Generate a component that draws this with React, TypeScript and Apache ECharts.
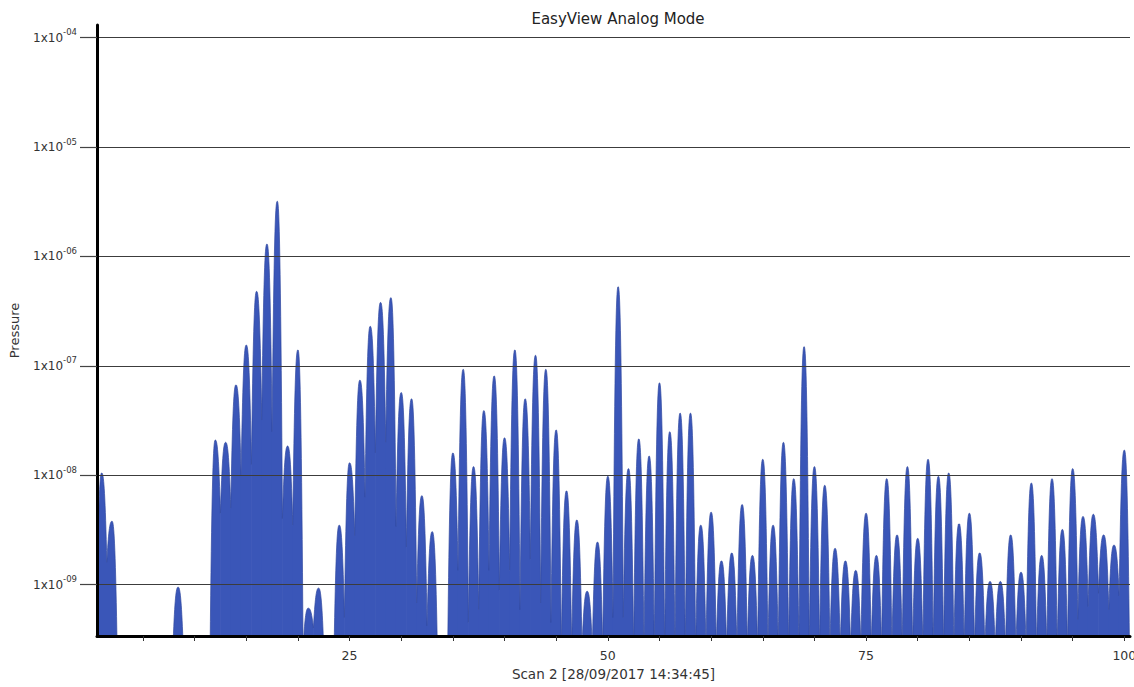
import React, { useEffect, useRef } from "react";
import * as echarts from "echarts";

// Peak positions (amu) and peak pressures
const masses = [
  1, 2, 8.4, 12, 13, 14, 15, 16, 17, 18, 19, 20, 21, 22, 24, 25, 26, 27, 28, 29,
  30, 31, 32, 33, 35, 36, 37, 38, 39, 40, 41, 42, 43, 44, 45, 46, 47, 48, 49, 50,
  51, 52, 53, 54, 55, 56, 57, 58, 59, 60, 61, 62, 63, 64, 65, 66, 67, 68, 69, 70,
  71, 72, 73, 74, 75, 76, 77, 78, 79, 80, 81, 82, 83, 84, 85, 86, 87, 88, 89, 90,
  91, 92, 93, 94, 95, 96, 97, 98, 99, 100,
];
const peakPressure = [
  1.05e-8, 3.8e-9, 9.5e-10, 2.1e-8, 2.0e-8, 6.7e-8, 1.55e-7, 4.8e-7, 1.3e-6, 3.2e-6,
  1.85e-8, 1.4e-7, 6.1e-10, 9.3e-10, 3.5e-9, 1.3e-8, 7.4e-8, 2.3e-7, 3.8e-7, 4.2e-7,
  5.7e-8, 5.0e-8, 6.5e-9, 3.05e-9, 1.6e-8, 9.3e-8, 1.2e-8, 3.9e-8, 8.1e-8, 2.2e-8,
  1.4e-7, 5.0e-8, 1.25e-7, 9.3e-8, 2.6e-8, 7.2e-9, 3.9e-9, 8.7e-10, 2.45e-9, 9.8e-9,
  5.3e-7, 1.15e-8, 2.15e-8, 1.5e-8, 7.0e-8, 2.5e-8, 3.7e-8, 3.7e-8, 3.5e-9, 4.6e-9,
  1.65e-9, 1.95e-9, 5.4e-9, 1.85e-9, 1.4e-8, 3.5e-9, 2.0e-8, 9.3e-9, 1.5e-7, 1.2e-8,
  8.1e-9, 2.15e-9, 1.65e-9, 1.35e-9, 4.5e-9, 1.85e-9, 9.3e-9, 2.85e-9, 1.2e-8, 2.65e-9,
  1.4e-8, 9.8e-9, 1.05e-8, 3.6e-9, 4.5e-9, 1.95e-9, 1.07e-9, 1.07e-9, 2.85e-9, 1.3e-9,
  8.5e-9, 1.85e-9, 9.3e-9, 3.2e-9, 1.15e-8, 4.2e-9, 4.4e-9, 2.85e-9, 2.3e-9, 1.7e-8,
];
// Pressure at the valley between a peak and the next one (null: valley drops below the axis)
const valleyAfter: (number | null)[] = [
  1.6e-9, null, null, 4.5e-9, 5.0e-9, 1.0e-8, 1.25e-8, 3.2e-8, 2.5e-8, 4.0e-9,
  3.5e-9, null, 4.0e-10, null, 5.0e-10, 2.8e-9, 6.3e-9, 1.6e-8, 2.0e-8, 3.4e-9,
  2.2e-9, 6.8e-10, 4.2e-10, null, 1.35e-9, 4.5e-10, 5.9e-10, 1.35e-9, 8.9e-10, 1.35e-9,
  5.9e-10, 1.7e-9, 6.8e-10, 4.5e-10, null, null, null, null, null, 5.0e-10,
  5.0e-10, null, null, null, null, null, null, null, null, null,
  null, null, null, null, null, null, null, null, null, null,
  null, null, null, null, null, null, null, null, null, null,
  null, null, null, null, null, null, null, null, null, null,
  null, null, null, null, 4.8e-10, 6.3e-10, 8.3e-10, 5.9e-10, 7.9e-10, null,
];
const yExponents = [-9, -8, -7, -6, -5, -4];
const xTicks = [5, 10, 15, 20, 25, 30, 35, 40, 45, 50, 55, 60, 65, 70, 75, 80, 85, 90, 95, 100];
const xLabels = [25, 50, 75, 100];

const FONT = "DejaVu Sans, Liberation Sans, Arial, sans-serif";
const Y_MIN = -9.469;
const Y_MAX = -3.884;
const FILL = "#3a56b8";
const EDGE = "#2f479f";
const SHAPE_POWER = 2.5;

export default function App() {
  const ref = useRef<HTMLDivElement>(null);
  useEffect(() => {
    if (!ref.current) return;
    const chart = echarts.init(ref.current, undefined, { renderer: "svg" });
    const data = masses.map((m, i) => [m, Math.log10(peakPressure[i])]);
    const leftV = masses.map((_, i) => (i > 0 ? valleyAfter[i - 1] : null));
    const rightV = masses.map((_, i) => valleyAfter[i]);

    const renderItem = (params: any, api: any) => {
      const i = params.dataIndex;
      const m = api.value(0) as number;
      const top = api.value(1) as number;
      const floor = Y_MIN - 0.12;
      const N = 18;
      const side = (dir: number, vp: number | null) => {
        const curve: number[][] = [];
        const foot: number[][] = [];
        const v = vp != null ? Math.log10(vp) : floor;
        for (let j = 0; j <= N; j++) {
          const t = j / N;
          curve.push([m + dir * 0.5 * t, top - (top - v) * Math.pow(t, SHAPE_POWER)]);
        }
        if (vp != null) foot.push([m + dir * 0.53, v], [m + dir * 0.53, floor]);
        return { curve, foot };
      };
      const L = side(-1, leftV[i]);
      const R = side(1, rightV[i]);
      const outline = [...L.curve.slice().reverse(), ...R.curve.slice(1)];
      const poly = [...L.foot.slice().reverse(), ...outline, ...R.foot];
      return {
        type: "group",
        children: [
          {
            type: "polygon",
            shape: { points: poly.map((p) => api.coord(p)) },
            style: { fill: FILL },
          },
          {
            type: "polyline",
            shape: { points: outline.map((p) => api.coord(p)) },
            style: { stroke: EDGE, lineWidth: 0.7, fill: null },
          },
        ],
      };
    };

    chart.setOption({
      animation: false,
      backgroundColor: "#ffffff",
      title: {
        text: "EasyView Analog Mode",
        left: 613,
        textAlign: "center",
        top: 6,
        textStyle: { fontSize: 15, fontWeight: "normal", color: "#222", fontFamily: FONT },
      },
      grid: { left: 97, top: 25, right: 4, bottom: 51, containLabel: false, outerBoundsMode: "none" },
      xAxis: {
        type: "value",
        min: 0.55,
        max: 100.55,
        z: 3,
        name: "Scan 2 [28/09/2017 14:34:45]",
        nameLocation: "middle",
        nameGap: 31,
        nameTextStyle: { fontSize: 13.5, color: "#333", fontFamily: FONT },
        axisLine: { show: true, onZero: false, lineStyle: { color: "#000", width: 3 } },
        axisTick: { show: true, customValues: xTicks, length: 5, lineStyle: { color: "#333", width: 1 } },
        axisLabel: { customValues: xLabels, margin: 13, fontSize: 12.5, color: "#333", fontFamily: FONT },
        splitLine: { show: false },
      },
      yAxis: {
        type: "value",
        min: Y_MIN,
        max: Y_MAX,
        z: 3,
        name: "Pressure",
        nameLocation: "middle",
        nameGap: 76,
        nameRotate: 90,
        nameTextStyle: { fontSize: 13, color: "#333", fontFamily: FONT },
        axisLine: { show: true, lineStyle: { color: "#000", width: 3 } },
        axisTick: { show: true, customValues: yExponents, length: 17, lineStyle: { color: "#444", width: 1.2 } },
        axisLabel: {
          customValues: yExponents,
          margin: 20,
          formatter: (v: number) => `{a|1x10}{b|-${String(Math.round(-v)).padStart(2, "0")}}`,
          rich: {
            a: { fontSize: 12, color: "#333", fontFamily: FONT, lineHeight: 20 },
            b: { fontSize: 8.5, color: "#333", fontFamily: FONT, lineHeight: 10, verticalAlign: "top" },
          },
        },
        splitLine: { show: true, lineStyle: { color: "#3c3c3c", width: 1.2 } },
      },
      series: [
        {
          type: "custom",
          renderItem,
          data,
          encode: { x: 0, y: 1 },
          clip: true,
          z: 2,
        },
      ],
    });
    return () => chart.dispose();
  }, []);
  return (
    <div
      ref={ref}
      style={{ position: "absolute", left: 0, top: 0, width: 1134, height: 687 }}
    />
  );
}
